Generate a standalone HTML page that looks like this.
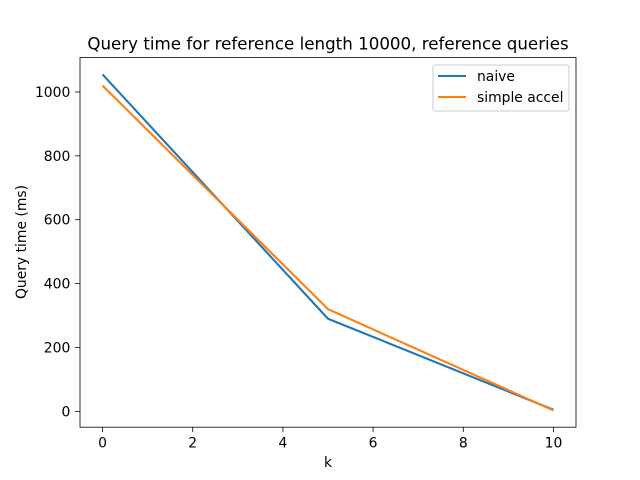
<!DOCTYPE html>
<html><head><meta charset="utf-8"><style>
body{margin:0;background:#fff;}
svg{display:block;font-family:"DejaVu Sans","Liberation Sans",sans-serif;}
</style></head><body>
<svg id="chart" width="640" height="480">
<rect width="640" height="480" fill="#fff"/>
<text x="328" y="49.5" text-anchor="middle" font-size="16.7">Query time for reference length 10000, reference queries</text>
<g id="plot"></g>
<rect x="80" y="57.6" width="496" height="369.6" fill="none" stroke="#000" stroke-width="0.8"/>
<text x="328" y="467" text-anchor="middle" font-size="13.9">k</text>
<text transform="translate(26,242) rotate(-90)" text-anchor="middle" font-size="13.9">Query time (ms)</text>
<g>
<rect x="433" y="65" width="136" height="46" fill="#fff" stroke="#ccc" stroke-width="1" rx="2"/>
<line x1="438" y1="76" x2="466" y2="76" stroke="#1f77b4" stroke-width="2.08"/>
<text x="477" y="81" font-size="13.9">naive</text>
<line x1="438" y1="97" x2="466" y2="97" stroke="#ff7f0e" stroke-width="2.08"/>
<text x="477" y="102" font-size="13.9">simple accel</text>
</g>
</svg>
<script>
const kValues=[0,5,10];
const naive=[1055,290,5];
const simpleAccel=[1020,320,3];
const xTicks=[0,2,4,6,8,10];
const yTicks=[0,200,400,600,800,1000];
const L=80,R=576,T=57.6,B=427.2;
const xmin=-0.5,xmax=10.5,ymin=-49.6,ymax=1107.6;
const sx=v=>L+(v-xmin)/(xmax-xmin)*(R-L);
const sy=v=>B-(v-ymin)/(ymax-ymin)*(B-T);
const NS="http://www.w3.org/2000/svg";
const g=document.getElementById('plot');
function mk(t,a){const e=document.createElementNS(NS,t);for(const k in a)e.setAttribute(k,a[k]);g.appendChild(e);return e;}
xTicks.forEach(v=>{
 const l=mk('line',{x1:sx(v),x2:sx(v),y1:B,y2:B+4.9,stroke:'#000','stroke-width':0.8});
 
 
 const t=mk('text',{x:sx(v),y:B+20.5,'text-anchor':'middle','font-size':13.9});
 t.textContent=v;
 
 
});
yTicks.forEach(v=>{
 const l=mk('line',{x1:L-4.9,x2:L,y1:sy(v),y2:sy(v),stroke:'#000','stroke-width':0.8});
 
 
 const t=mk('text',{x:L-9.7,y:sy(v)+5,'text-anchor':'end','font-size':13.9});
 t.textContent=v;
 
 
});
function series(vals,color,name){
 const p=mk('polyline',{points:kValues.map((k,i)=>sx(k)+','+sy(vals[i])).join(' '),fill:'none',stroke:color,'stroke-width':2.08,'stroke-linejoin':'round'});
 
 
}
series(naive,'#1f77b4','naive-line');
series(simpleAccel,'#ff7f0e','simple-accel-line');
</script>
</body></html>
